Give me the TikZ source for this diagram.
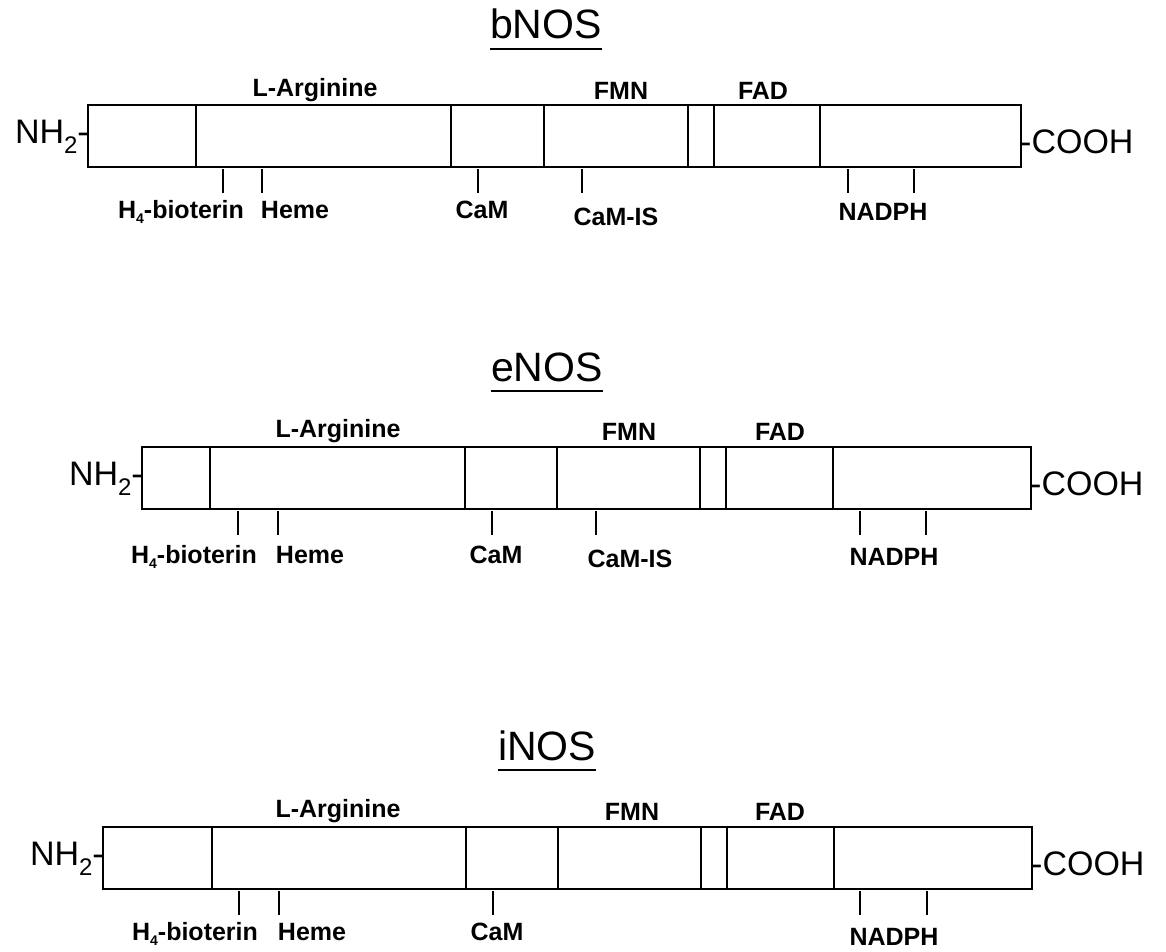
\documentclass[tikz,border=0pt]{standalone}
\usepackage{fontspec}
\setmainfont{Liberation Sans}
\tikzset{
  boxline/.style={line width=2pt},
  divline/.style={line width=1.6pt},
  tickline/.style={line width=1.8pt},
  lab/.style={anchor=base, inner sep=0pt, font=\fontsize{25}{30}\selectfont\bfseries},
  title/.style={anchor=base, inner sep=0pt, font=\fontsize{41}{48}\selectfont},
  term/.style={inner sep=0pt, font=\fontsize{34}{40}\selectfont},
  uline/.style={line width=2.4pt},
}
\newcommand{\Hfour}{H\raisebox{-0.22em}{\fontsize{14}{14}\selectfont 4}-bioterin}
\newcommand{\NHtwo}{NH\raisebox{-0.3em}{\fontsize{24}{24}\selectfont 2}-}
\begin{document}
\begin{tikzpicture}[x=1pt,y=-1pt]
\useasboundingbox (0,0) rectangle (1166,951);
\fill[white] (0,0) rectangle (1166,951);

% ---------------- bNOS ----------------
\node[title] (t1) at (546,38) {bNOS};
\draw[uline] (t1.west |- 0,49) -- (t1.east |- 0,49);
\coordinate (b1nw) at (88,105);
\coordinate (b1se) at (1021,167);
\draw[boxline] (b1nw) rectangle (b1se);
\foreach \x in {196,451,544,688,714,820} \draw[divline] (\x,105) -- (\x,167);
\foreach \x/\n in {223/a,262/b,478/c,582/d,848/e,914/f} {
  \coordinate (k1\n) at (\x,169);
  \coordinate (k1\n e) at (\x,193);
  \draw[tickline] (k1\n) -- (k1\n e);
}
\node[lab] (h1) at (181,218) {\Hfour};
\node[lab] (he1) at (295,218) {Heme};
\node[lab] (c1) at (482,218) {CaM};
\node[lab] (ci1) at (616,225) {CaM-IS};
\node[lab] (np1) at (883,220) {NADPH};
\node[lab] (la1) at (315,96) {L-Arginine};
\node[lab] (fm1) at (621,99) {FMN};
\node[lab] (fa1) at (763,99) {FAD};
\node[term, anchor=base east] (nh1) at (89,143) {\NHtwo};
\node[term, anchor=base west] (co1) at (1020,153) {-COOH};

% ---------------- eNOS ----------------
\node[title] (t2) at (547,381) {eNOS};
\draw[uline] (t2.west |- 0,391) -- (t2.east |- 0,391);
\coordinate (b2nw) at (142,447);
\coordinate (b2se) at (1031,509);
\draw[boxline] (b2nw) rectangle (b2se);
\foreach \x in {210,465,557,700,726,833} \draw[divline] (\x,447) -- (\x,509);
\foreach \x/\n in {238/a,278/b,492/c,596/d,860/e,926/f} {
  \coordinate (k2\n) at (\x,511);
  \coordinate (k2\n e) at (\x,535);
  \draw[tickline] (k2\n) -- (k2\n e);
}
\node[lab] (h2) at (194,563) {\Hfour};
\node[lab] (he2) at (310,563) {Heme};
\node[lab] (c2) at (496,563) {CaM};
\node[lab] (ci2) at (630,567) {CaM-IS};
\node[lab] (np2) at (894,565) {NADPH};
\node[lab] (la2) at (338,437) {L-Arginine};
\node[lab] (fm2) at (629,440) {FMN};
\node[lab] (fa2) at (780,440) {FAD};
\node[term, anchor=base east] (nh2) at (143,485) {\NHtwo};
\node[term, anchor=base west] (co2) at (1030,495) {-COOH};

% ---------------- iNOS ----------------
\node[title] (t3) at (547,760) {iNOS};
\draw[uline] (t3.west |- 0,770) -- (t3.east |- 0,770);
\coordinate (b3nw) at (103,827);
\coordinate (b3se) at (1032,889);
\draw[boxline] (b3nw) rectangle (b3se);
\foreach \x in {212,466,558,701,727,834} \draw[divline] (\x,827) -- (\x,889);
\foreach \x/\n in {239/a,279/b,493/c,860/e,927/f} {
  \coordinate (k3\n) at (\x,891);
  \coordinate (k3\n e) at (\x,915);
  \draw[tickline] (k3\n) -- (k3\n e);
}
\node[lab] (h3) at (195,940) {\Hfour};
\node[lab] (he3) at (312,940) {Heme};
\node[lab] (c3) at (497,940) {CaM};
\node[lab] (np3) at (894,945) {NADPH};
\node[lab] (la3) at (338,817) {L-Arginine};
\node[lab] (fm3) at (632,820) {FMN};
\node[lab] (fa3) at (780,820) {FAD};
\node[term, anchor=base east] (nh3) at (104,865) {\NHtwo};
\node[term, anchor=base west] (co3) at (1031,875) {-COOH};
\end{tikzpicture}
\end{document}
